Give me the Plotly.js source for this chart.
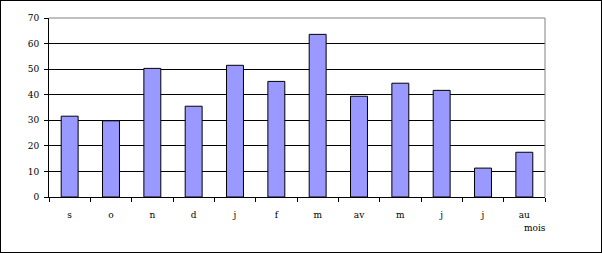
<!DOCTYPE html>
<html><head><meta charset="utf-8">
<script src="https://cdn.plot.ly/plotly-3.0.1.min.js"></script>
<style>
html,body{margin:0;padding:0;background:#fff;}
#wrap{width:600px;height:251px;border:1px solid #000;}
#chart{width:600px;height:251px;}
</style></head>
<body><div id="wrap"><div id="chart"></div></div>
<script>
const months = ["s","o","n","d","j","f","m","av","m","j","j","au"];
const values = [31.6,29.8,50.3,35.5,51.5,45.2,63.6,39.4,44.5,41.7,11.3,17.5];
const yTicks = [0,10,20,30,40,50,60,70];
const xTitle = "mois";

const idx = months.map((_, i) => i);
const bounds = months.map((_, i) => i - 0.5).concat([months.length - 0.5]);

const trace = {
  type: "bar", x: idx, y: values, width: 0.41,
  marker: {color: "#9999FF", line: {color: "#000", width: 1}},
  hoverinfo: "none"
};
const ghost = {type: "scatter", x: [idx[0]], y: [0], xaxis: "x2", mode: "markers",
  marker: {opacity: 0}, hoverinfo: "none", showlegend: false};

const font = {family: "DejaVu Serif", size: 9, color: "#000"};
const layout = {
  width: 600, height: 251,
  margin: {l: 48, r: 56, t: 17, b: 55},
  paper_bgcolor: "#fff", plot_bgcolor: "#fff",
  showlegend: false, font: font, bargap: 0.59,
  xaxis: {range: [-0.5, months.length - 0.5], tickmode: "array", tickvals: idx, ticktext: months,
    ticks: "", showgrid: false, zeroline: false, showline: true, linecolor: "#000", linewidth: 1,
    tickfont: font, ticklabelstandoff: 9, fixedrange: true},
  xaxis2: {overlaying: "x", matches: "x", side: "bottom", anchor: "y", tickmode: "array", tickvals: bounds,
    showticklabels: false, ticks: "outside", ticklen: 4, tickcolor: "#000", tickwidth: 1,
    showgrid: false, zeroline: false, showline: false},
  yaxis: {range: [0, 70], tickmode: "array", tickvals: yTicks, ticks: "outside", ticklen: 4,
    tickcolor: "#000", showgrid: true, gridcolor: "#000", gridwidth: 1, zeroline: false,
    showline: true, linecolor: "#000", linewidth: 1, tickfont: font, ticklabelstandoff: 3, fixedrange: true},
  shapes: [
    {type: "line", xref: "paper", yref: "paper", x0: 0, x1: 1, y0: 1, y1: 1, line: {color: "#808080", width: 1}, layer: "above"},
    {type: "line", xref: "paper", yref: "paper", x0: 1, x1: 1, y0: 0, y1: 1, line: {color: "#808080", width: 1}, layer: "above"}
  ],
  annotations: [{text: xTitle, xref: "paper", yref: "paper", x: 0.979, y: -0.173, showarrow: false,
    font: font, xanchor: "center", yanchor: "middle"}]
};
Plotly.newPlot("chart", [trace, ghost], layout, {staticPlot: true, displayModeBar: false});
</script></body></html>
